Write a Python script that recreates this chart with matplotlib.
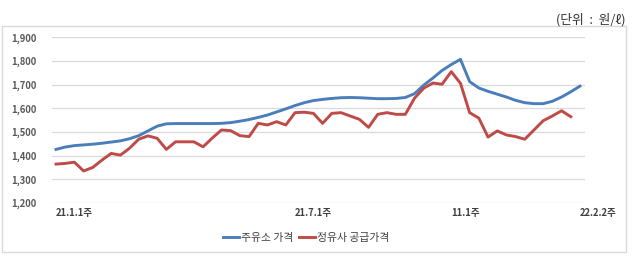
import matplotlib.pyplot as plt
from matplotlib.patches import Rectangle

plt.rcParams['font.family'] = ['Noto Sans CJK KR', 'DejaVu Sans']

# 주간 가격 (원/ℓ), 21.1.1주 ~ 22.2.2주
주유소 = [1427, 1437, 1443, 1446, 1449, 1453, 1458, 1463, 1472, 1485,
          1505, 1525, 1535, 1536, 1536, 1536, 1536, 1536, 1537, 1540,
          1546, 1553, 1562, 1572, 1585, 1598, 1612, 1624, 1633, 1638,
          1642, 1645, 1646, 1645, 1643, 1641, 1641, 1642, 1646, 1662,
          1698, 1728, 1760, 1785, 1807, 1713, 1686, 1672, 1660, 1648,
          1634, 1624, 1620, 1620, 1630, 1648, 1670, 1694]
정유사 = [1365, 1368, 1373, 1336, 1351, 1382, 1410, 1403, 1432, 1470,
          1484, 1474, 1427, 1459, 1459, 1459, 1438, 1475, 1509, 1506,
          1485, 1481, 1537, 1530, 1544, 1530, 1582, 1584, 1579, 1537,
          1579, 1582, 1568, 1554, 1520, 1575, 1582, 1575, 1575, 1643,
          1685, 1707, 1702, 1755, 1706, 1582, 1559, 1479, 1505, 1488,
          1481, 1470, 1509, 1548, 1568, 1590, 1565]

x_라벨_위치 = [0, 26, 43, 57]
x_라벨 = ["21.1.1주", "21.7.1주", "11.1주", "22.2.2주"]
y_눈금 = [1200, 1300, 1400, 1500, 1600, 1700, 1800, 1900]

fig = plt.figure(figsize=(6.39, 2.62), dpi=100)

# 바깥 테두리
fig.patches.append(Rectangle((2 / 639, 1 - 252 / 262), 624 / 639, 226 / 262,
                             transform=fig.transFigure, fill=False,
                             edgecolor="#d9d9d9", linewidth=1))

ax = fig.add_axes([52 / 639, 1 - 203.2 / 262, 533 / 639, 165.9 / 262])
ax.plot(range(len(주유소)), 주유소, color="#4a7ebb", lw=2.1, label="주유소 가격",
        solid_joinstyle="round")
ax.plot(range(len(정유사)), 정유사, color="#be4b48", lw=2.1, label="정유사 공급가격",
        solid_joinstyle="round")

ax.set_ylim(1200, 1900)
ax.set_xlim(-0.44, 57.55)
ax.set_yticks(y_눈금)
ax.set_yticklabels([f"{v:,}" for v in y_눈금], fontsize=6.8, color="#595959",
                   fontweight="bold")
ax.set_xticks([])
for p, t in zip(x_라벨_위치, x_라벨):
    ax.text(p, 1200 - 42, t, ha="left", va="center", fontsize=6.8,
            color="#404040", fontweight="bold")
ax.tick_params(axis="y", length=0, pad=11)
ax.grid(axis="y", color="#d9d9d9", lw=0.9)
ax.set_axisbelow(True)
for s in ax.spines.values():
    s.set_visible(False)

fig.legend(loc="center", bbox_to_anchor=(306 / 639, 1 - 238 / 262), ncol=2,
           frameon=False, fontsize=7.8, handlelength=1.5, handletextpad=0.15,
           columnspacing=0.5, labelcolor="#404040")

fig.text(626 / 639, 1 - 20 / 262, "(단위  :  원/ℓ)", ha="right", va="center",
         fontsize=9.2, color="#333333")

fig.savefig("out.png", dpi=100)
